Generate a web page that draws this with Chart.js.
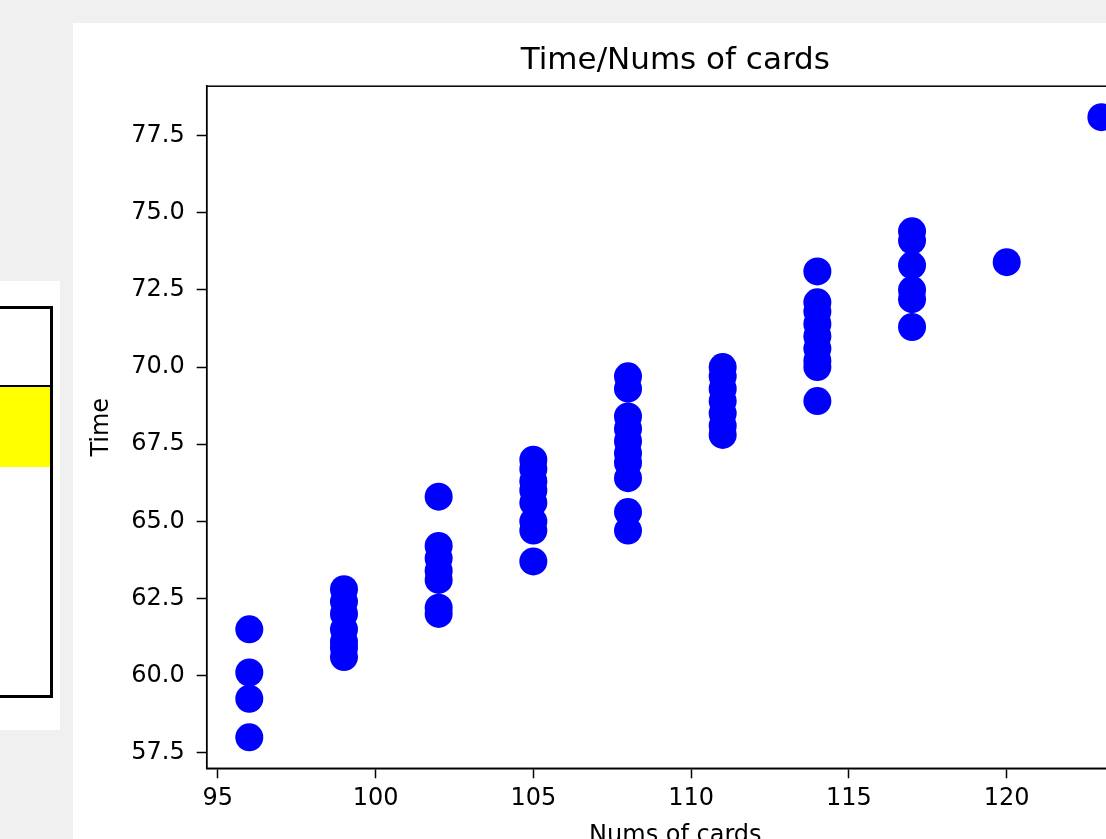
<!DOCTYPE html>
<html>
<head>
<meta charset="utf-8">
<script src="https://cdn.jsdelivr.net/npm/chart.js@4.4.1/dist/chart.umd.min.js"></script>
<style>
  html, body { margin: 0; padding: 0; }
  body { width: 1106px; height: 839px; overflow: hidden; background: #f0f0f0; position: relative; font-family: "DejaVu Sans", sans-serif; }
  #sidePanel { position: absolute; left: 0; top: 281px; width: 60px; height: 449px; background: #fff; }
  #sideBox { position: absolute; left: -3px; top: 25px; width: 50px; height: 386px; border: 3px solid #000; background: #fff; }
  #sideRow { position: absolute; left: 0; top: 76px; width: 50px; height: 0; border-top: 2px solid #000; }
  #sideFill { position: absolute; left: 0; top: 78px; width: 50px; height: 80px; background: #ffff00; }
  #chartPanel { position: absolute; left: 73px; top: 23px; width: 1200px; height: 900px; background: #fff; }
  #chart { position: absolute; left: 0; top: 0; }
</style>
</head>
<body>
<div id="sidePanel">
  <div id="sideBox"><div id="sideRow"></div><div id="sideFill"></div></div>
</div>
<div id="chartPanel">
  <canvas id="chart" width="1085" height="835"></canvas>
</div>
<script>
// number of cards on x, one group of measured times per card count
var cardCounts = [96, 99, 102, 105, 108, 111, 114, 117, 120, 123];
var timeGroups = [
  [61.5, 60.1, 59.25, 58.0],
  [62.8, 62.4, 62.0, 61.5, 61.1, 60.9, 60.6],
  [65.8, 64.2, 63.8, 63.4, 63.1, 62.2, 62.0],
  [67.0, 66.7, 66.3, 66.0, 65.6, 65.0, 64.7, 63.7],
  [69.7, 69.3, 68.4, 68.0, 67.6, 67.2, 66.9, 66.4, 65.3, 64.7],
  [70.0, 69.7, 69.3, 68.9, 68.5, 68.1, 67.8],
  [73.1, 72.1, 71.8, 71.4, 71.0, 70.6, 70.2, 70.0, 68.9],
  [74.4, 74.1, 73.3, 72.5, 72.2, 71.3],
  [73.4],
  [78.1]
];
var xTicks = [95, 100, 105, 110, 115, 120];
var yTicks = [57.5, 60.0, 62.5, 65.0, 67.5, 70.0, 72.5, 75.0, 77.5];

var points = [];
cardCounts.forEach(function(c, i) {
  timeGroups[i].forEach(function(t) { points.push({x: c, y: t}); });
});

// matplotlib style 5% margins
function padRange(vals) {
  var lo = Math.min.apply(null, vals), hi = Math.max.apply(null, vals);
  var m = (hi - lo) * 0.05;
  return [lo - m, hi + m];
}
var xr = padRange(points.map(function(p) { return p.x; }));
var yr = padRange(points.map(function(p) { return p.y; }));

var tickFont = {family: 'DejaVu Sans', size: 24};

// full box around the plot area, like the matplotlib spines
var frame = {
  id: 'frame',
  afterDraw: function(chart) {
    var a = chart.chartArea, ctx = chart.ctx;
    ctx.save();
    ctx.strokeStyle = '#000';
    ctx.lineWidth = 1.5;
    ctx.strokeRect(a.left, a.top, a.right - a.left, a.bottom - a.top);
    ctx.restore();
  }
};

var ctx = document.getElementById('chart').getContext('2d');
var chart = new Chart(ctx, {
  type: 'scatter',
  data: {
    datasets: [{
      label: 'Time',
      data: points,
      backgroundColor: '#0000ff',
      borderWidth: 0,
      pointRadius: 14,
      pointHoverRadius: 14
    }]
  },
  options: {
    responsive: false,
    animation: false,
    events: [],
    layout: { padding: 0 },
    plugins: {
      legend: { display: false },
      tooltip: { enabled: false },
      title: {
        display: true,
        text: 'Time/Nums of cards',
        fullSize: false,
        color: '#000',
        font: {family: 'DejaVu Sans', size: 31, weight: 'normal'},
        padding: {top: 19, bottom: 7}
      }
    },
    scales: {
      x: {
        type: 'linear',
        min: xr[0],
        max: xr[1],
        afterBuildTicks: function(s) { s.ticks = xTicks.map(function(v) { return {value: v}; }); },
        afterFit: function(s) { s.height = 89.7; },
        ticks: { color: '#000', font: tickFont, padding: 6, maxRotation: 0 },
        grid: { drawOnChartArea: false, drawTicks: true, tickLength: 10, tickWidth: 1.5, tickColor: '#000' },
        border: { display: true, color: '#000', width: 1.5 },
        title: { display: true, text: 'Nums of cards', color: '#000', font: tickFont, padding: {top: 0, bottom: 8} }
      },
      y: {
        type: 'linear',
        min: yr[0],
        max: yr[1],
        afterBuildTicks: function(s) { s.ticks = yTicks.map(function(v) { return {value: v}; }); },
        afterFit: function(s) { s.width = 133.7; },
        ticks: { color: '#000', font: tickFont, padding: 12, callback: function(v) { return v.toFixed(1); } },
        grid: { drawOnChartArea: false, drawTicks: true, tickLength: 10, tickWidth: 1.5, tickColor: '#000' },
        border: { display: true, color: '#000', width: 1.5 },
        title: { display: true, text: 'Time', color: '#000', font: tickFont, padding: {top: 14.6, bottom: 0} }
      }
    }
  },
  plugins: [frame]
});
</script>
</body>
</html>
